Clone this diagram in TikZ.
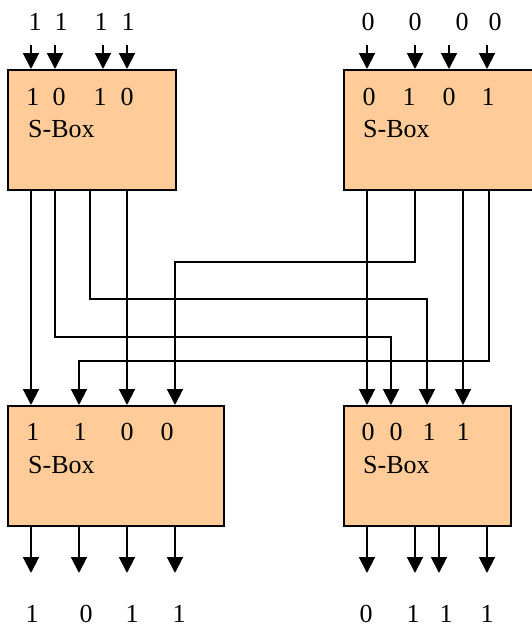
\documentclass[tikz,border=0pt]{standalone}
\usepackage{fontspec}
\setmainfont{Liberation Serif}
\usetikzlibrary{arrows.meta}
\definecolor{sboxfill}{HTML}{FFCC99}
\tikzset{
  sbox/.style={draw, fill=sboxfill, line width=1.8pt, anchor=north west,
    minimum height=120pt, inner sep=0pt},
  wire/.style={line width=2pt},
  pin/.style={wire, -{Triangle[width=16pt,length=16pt]}},
  bit/.style={inner sep=0pt, font=\fontsize{26}{30}\selectfont},
}
\begin{document}
\begin{tikzpicture}[x=1pt, y=-1pt]
  \clip (0,0) rectangle (532,627);

  % S-boxes
  \node[sbox, minimum width=168pt] (TL) at (7,69) {};
  \node[sbox, minimum width=200pt] (TR) at (343,69) {};
  \node[sbox, minimum width=216pt] (BL) at (7,405) {};
  \node[sbox, minimum width=167pt] (BR) at (343,405) {};

  \node[bit, anchor=west] (TLname) at (28,129) {S-Box};
  \node[bit, anchor=west] (TRname) at (363,129) {S-Box};
  \node[bit, anchor=west] (BLname) at (28,465) {S-Box};
  \node[bit, anchor=west] (BRname) at (363,465) {S-Box};

  % Pins on the boxes
  \foreach \x [count=\i] in {31,55,103,127} \coordinate (tli\i) at (\x,69);
  \foreach \x [count=\i] in {367,415,449,487} \coordinate (tri\i) at (\x,69);
  \foreach \x [count=\i] in {31,55,90,127} \coordinate (tlo\i) at (\x,189);
  \foreach \x [count=\i] in {367,415,463,489} \coordinate (tro\i) at (\x,189);
  \foreach \x [count=\i] in {31,79,127,175} \coordinate (bli\i) at (\x,405);
  \foreach \x [count=\i] in {367,391,427,463} \coordinate (bri\i) at (\x,405);
  \foreach \x [count=\i] in {31,79,127,175} \coordinate (blo\i) at (\x,525);
  \foreach \x [count=\i] in {367,415,439,487} \coordinate (bro\i) at (\x,525);

  % Inputs and outputs
  \foreach \i in {1,...,4} {
    \draw[pin] (tli\i) ++(0,-24) -- (tli\i);
    \draw[pin] (tri\i) ++(0,-24) -- (tri\i);
    \draw[pin] (blo\i) -- ++(0,48);
    \draw[pin] (bro\i) -- ++(0,48);
  }

  % Permutation wires
  \draw[pin] (tlo1) -- (bli1);
  \draw[pin] (tlo2) -- ++(0,148) -| (bri2);
  \draw[pin] (tlo3) -- ++(0,110) -| (bri3);
  \draw[pin] (tlo4) -- (bli3);
  \draw[pin] (tro1) -- (bri1);
  \draw[pin] (tro2) -- ++(0,73) -| (bli4);
  \draw[pin] (tro3) -- (bri4);
  \draw[pin] (tro4) -- ++(0,172) -| (bli2);

  % Bit values
  \foreach \x/\b [count=\i] in {35/1,61/1,101/1,128/1}
    \node[bit] (tlin\i) at (\x,22) {\b};
  \foreach \x/\b [count=\i] in {368/0,415/0,462/0,495/0}
    \node[bit] (trin\i) at (\x,22) {\b};
  \foreach \x/\b [count=\i] in {33/1,59/0,100/1,127/0}
    \node[bit] (tlval\i) at (\x,97) {\b};
  \foreach \x/\b [count=\i] in {369/0,409/1,449/0,488/1}
    \node[bit] (trval\i) at (\x,97) {\b};
  \foreach \x/\b [count=\i] in {33/1,80/1,127/0,167/0}
    \node[bit] (blval\i) at (\x,432) {\b};
  \foreach \x/\b [count=\i] in {368/0,396/0,429/1,463/1}
    \node[bit] (brval\i) at (\x,432) {\b};
  \foreach \x/\b [count=\i] in {32/1,86/0,132/1,179/1}
    \node[bit] (blout\i) at (\x,614) {\b};
  \foreach \x/\b [count=\i] in {366/0,413/1,446/1,487/1}
    \node[bit] (brout\i) at (\x,614) {\b};
\end{tikzpicture}
\end{document}
